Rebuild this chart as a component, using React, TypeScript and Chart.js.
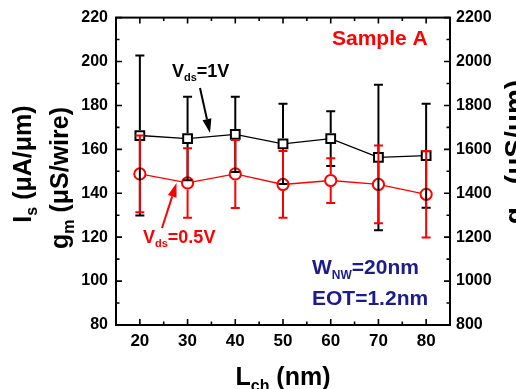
import React, { useEffect, useRef } from "react";
import { Chart, registerables } from "chart.js";

Chart.register(...registerables);

// ---- data ----
const lengths = [20, 30, 40, 50, 60, 70, 80];
const vds1Values = [166.3, 164.9, 166.8, 162.5, 164.9, 156.3, 157.1];
const vds1Errors = [36.4, 19.0, 17.1, 18.3, 12.5, 33.1, 23.7];
const vds05Values = [148.8, 144.7, 148.8, 144.0, 145.8, 144.0, 139.5];
const vds05Errors = [17.5, 15.8, 15.5, 15.2, 10.2, 17.7, 19.7];
const xTicks = [20, 30, 40, 50, 60, 70, 80];
const leftTicks = [80, 100, 120, 140, 160, 180, 200, 220];
const rightTicks = [800, 1000, 1200, 1400, 1600, 1800, 2000, 2200];

const FAMILY = "'Liberation Sans', Arial, sans-serif";
const bold = (s: number) => `bold ${s}px ${FAMILY}`;
const RED = "#ff0000";
const NAVY = "#1c1c8c";

type Run = { text: string; sub?: boolean };

function drawRich(
  ctx: CanvasRenderingContext2D,
  runs: Run[],
  x: number,
  y: number,
  size: number,
  color: string,
  align: "left" | "center",
  subScale = 0.62
) {
  const subSize = Math.round(size * subScale);
  const parts = runs.map((r) => {
    ctx.font = bold(r.sub ? subSize : size);
    return { ...r, w: ctx.measureText(r.text).width };
  });
  const total = parts.reduce((a, p) => a + p.w, 0);
  let cx = align === "center" ? x - total / 2 : x;
  ctx.fillStyle = color;
  ctx.textAlign = "left";
  ctx.textBaseline = "alphabetic";
  for (const p of parts) {
    ctx.font = bold(p.sub ? subSize : size);
    ctx.fillText(p.text, cx, y + (p.sub ? size * 0.24 : 0));
    cx += p.w;
  }
}

function drawRotated(
  ctx: CanvasRenderingContext2D,
  runs: Run[],
  baseX: number,
  centerY: number,
  size: number,
  color: string
) {
  ctx.save();
  ctx.translate(baseX, centerY);
  ctx.rotate(-Math.PI / 2);
  drawRich(ctx, runs, 0, 0, size, color, "center");
  ctx.restore();
}

function drawArrow(
  ctx: CanvasRenderingContext2D,
  x1: number,
  y1: number,
  x2: number,
  y2: number,
  color: string
) {
  const ang = Math.atan2(y2 - y1, x2 - x1);
  const head = 14;
  const hw = 4.5;
  const bx = x2 - head * Math.cos(ang);
  const by = y2 - head * Math.sin(ang);
  ctx.save();
  ctx.strokeStyle = color;
  ctx.fillStyle = color;
  ctx.lineWidth = 2;
  ctx.beginPath();
  ctx.moveTo(x1, y1);
  ctx.lineTo(bx, by);
  ctx.stroke();
  ctx.beginPath();
  ctx.moveTo(x2, y2);
  ctx.lineTo(bx + hw * Math.sin(ang), by - hw * Math.cos(ang));
  ctx.lineTo(bx - hw * Math.sin(ang), by + hw * Math.cos(ang));
  ctx.closePath();
  ctx.fill();
  ctx.restore();
}

const mids = (arr: number[]) => arr.slice(1).map((v, i) => (v + arr[i]) / 2);

const errorBarPlugin = {
  id: "errorBars",
  afterDatasetsDraw(chart: any) {
    const ctx: CanvasRenderingContext2D = chart.ctx;
    const xs = chart.scales.x;
    const ys = chart.scales.y;
    const draw = (vals: number[], errs: number[], color: string, skip: number) => {
      ctx.save();
      ctx.strokeStyle = color;
      ctx.lineWidth = 2;
      vals.forEach((v, i) => {
        const px = xs.getPixelForValue(lengths[i]);
        const pc = ys.getPixelForValue(v);
        const pt = ys.getPixelForValue(v + errs[i]);
        const pb = ys.getPixelForValue(v - errs[i]);
        ctx.beginPath();
        if (pt < pc - skip) {
          ctx.moveTo(px, pc - skip);
          ctx.lineTo(px, pt);
        }
        if (pb > pc + skip) {
          ctx.moveTo(px, pc + skip);
          ctx.lineTo(px, pb);
        }
        ctx.moveTo(px - 4.5, pt);
        ctx.lineTo(px + 4.5, pt);
        ctx.moveTo(px - 4.5, pb);
        ctx.lineTo(px + 4.5, pb);
        ctx.stroke();
      });
      ctx.restore();
    };
    draw(vds1Values, vds1Errors, "#000000", 5.5);
    draw(vds05Values, vds05Errors, RED, 6.5);
  },
};

const framePlugin = {
  id: "frameAndText",
  afterDraw(chart: any) {
    const ctx: CanvasRenderingContext2D = chart.ctx;
    const { left, right, top, bottom } = chart.chartArea;
    const xs = chart.scales.x;
    const ys = chart.scales.y;
    const y2 = chart.scales.y2;
    ctx.save();
    ctx.strokeStyle = "#000";
    ctx.lineWidth = 1.6;
    ctx.beginPath();
    const major = 6;
    const minor = 3.5;
    xTicks.forEach((v) => {
      const p = xs.getPixelForValue(v);
      ctx.moveTo(p, bottom);
      ctx.lineTo(p, bottom - major);
      ctx.moveTo(p, top);
      ctx.lineTo(p, top + major);
    });
    mids(xTicks).forEach((v) => {
      const p = xs.getPixelForValue(v);
      ctx.moveTo(p, bottom);
      ctx.lineTo(p, bottom - minor);
      ctx.moveTo(p, top);
      ctx.lineTo(p, top + minor);
    });
    leftTicks.forEach((v) => {
      const p = ys.getPixelForValue(v);
      ctx.moveTo(left, p);
      ctx.lineTo(left + major, p);
    });
    mids(leftTicks).forEach((v) => {
      const p = ys.getPixelForValue(v);
      ctx.moveTo(left, p);
      ctx.lineTo(left + minor, p);
    });
    rightTicks.forEach((v) => {
      const p = y2.getPixelForValue(v);
      ctx.moveTo(right, p);
      ctx.lineTo(right - major, p);
    });
    mids(rightTicks).forEach((v) => {
      const p = y2.getPixelForValue(v);
      ctx.moveTo(right, p);
      ctx.lineTo(right - minor, p);
    });
    ctx.stroke();
    ctx.lineWidth = 2;
    ctx.strokeRect(left, top, right - left, bottom - top);
    ctx.restore();

    // axis titles
    drawRotated(ctx, [{ text: "I" }, { text: "s", sub: true }, { text: " (μA/μm)" }], 31, 164, 25, "#000");
    drawRotated(ctx, [{ text: "g" }, { text: "m", sub: true }, { text: " (μS/wire)" }], 68, 178, 25, "#000");
    drawRotated(ctx, [{ text: "g" }, { text: "m", sub: true }, { text: " (μS/μm)" }], 524, 152, 28, "#000");
    drawRich(ctx, [{ text: "L" }, { text: "ch", sub: true }, { text: " (nm)" }], (left + right) / 2, 385, 25, "#000", "center");

    // annotations
    drawRich(ctx, [{ text: "Sample A" }], 332, 45, 21, RED, "left");
    drawRich(ctx, [{ text: "V" }, { text: "ds", sub: true }, { text: "=1V" }], 172, 77, 18, "#000", "left");
    drawArrow(ctx, 200, 88, 210, 133, "#000");
    drawRich(ctx, [{ text: "V" }, { text: "ds", sub: true }, { text: "=0.5V" }], 143, 243, 18, RED, "left");
    drawArrow(ctx, 162, 228, 176.5, 183, RED);
    drawRich(ctx, [{ text: "W" }, { text: "NW", sub: true }, { text: "=20nm" }], 312, 274, 21, NAVY, "left", 0.58);
    drawRich(ctx, [{ text: "EOT=1.2nm" }], 312, 305, 21, NAVY, "left");
  },
};

const plainLabel = (v: any) => String(v);

export default function App() {
  const ref = useRef<HTMLCanvasElement | null>(null);
  useEffect(() => {
    if (!ref.current) return;
    Chart.defaults.font.family = FAMILY;
    const chart = new Chart(ref.current, {
      type: "line",
      data: {
        datasets: [
          {
            label: "Vds=1V",
            data: lengths.map((x, i) => ({ x, y: vds1Values[i] })),
            borderColor: "#000",
            borderWidth: 1.3,
            pointStyle: "rect",
            pointRadius: 6.2,
            pointBorderWidth: 2,
            pointBorderColor: "#000",
            pointBackgroundColor: "#fff",
            tension: 0,
            yAxisID: "y",
          },
          {
            label: "Vds=0.5V",
            data: lengths.map((x, i) => ({ x, y: vds05Values[i] })),
            borderColor: RED,
            borderWidth: 1.3,
            pointStyle: "circle",
            pointRadius: 5.6,
            pointBorderWidth: 2,
            pointBorderColor: RED,
            pointBackgroundColor: "#fff",
            tension: 0,
            yAxisID: "y",
          },
        ],
      },
      options: {
        animation: false,
        responsive: false,
        maintainAspectRatio: false,
        layout: { padding: { top: 15, left: 0, right: 0, bottom: 0 } },
        plugins: { legend: { display: false }, tooltip: { enabled: false } },
        scales: {
          x: {
            type: "linear",
            min: 15,
            max: 85,
            afterBuildTicks: (s: any) => {
              s.ticks = xTicks.map((value) => ({ value }));
            },
            afterFit: (s: any) => {
              s.height = 64;
            },
            grid: { display: false, drawTicks: false },
            border: { display: false },
            ticks: { padding: 6, color: "#000", font: { size: 17, weight: "bold" }, callback: plainLabel },
          },
          y: {
            type: "linear",
            position: "left",
            min: 80,
            max: 220,
            afterBuildTicks: (s: any) => {
              s.ticks = leftTicks.map((value) => ({ value }));
            },
            afterFit: (s: any) => {
              s.width = 116;
            },
            grid: { display: false, drawTicks: false },
            border: { display: false },
            ticks: { padding: 8, color: "#000", font: { size: 16, weight: "bold" }, callback: plainLabel },
          },
          y2: {
            type: "linear",
            position: "right",
            min: 800,
            max: 2200,
            afterBuildTicks: (s: any) => {
              s.ticks = rightTicks.map((value) => ({ value }));
            },
            afterFit: (s: any) => {
              s.width = 66;
            },
            grid: { display: false, drawTicks: false },
            border: { display: false },
            ticks: { padding: 6, color: "#000", font: { size: 16, weight: "bold" }, callback: plainLabel },
          },
        },
      } as any,
      plugins: [errorBarPlugin, framePlugin],
    });
    return () => chart.destroy();
  }, []);
  return (
    <div style={{ position: "fixed", left: 0, top: 0, width: 516, height: 389, background: "#fff" }}>
      <canvas ref={ref} width={516} height={389} style={{ width: 516, height: 389, display: "block" }} />
    </div>
  );
}
